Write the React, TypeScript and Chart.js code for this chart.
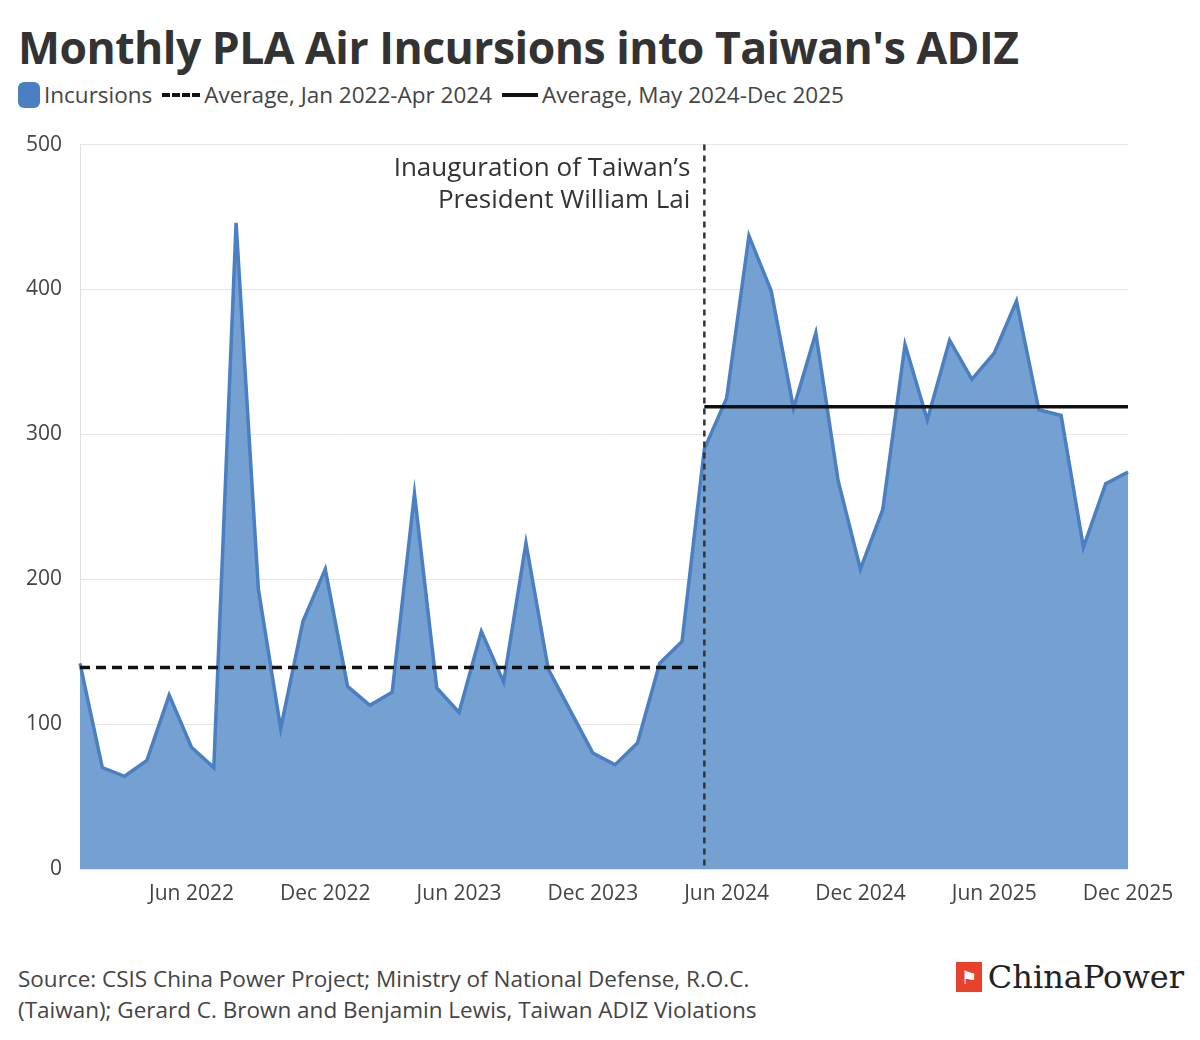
import React, { useRef, useEffect } from "react";
import { Chart, registerables } from "chart.js";

Chart.register(...registerables);

const months: string[] = [];
for (let y = 2022; y <= 2025; y++) {
  for (const m of ["Jan", "Feb", "Mar", "Apr", "May", "Jun", "Jul", "Aug", "Sep", "Oct", "Nov", "Dec"]) {
    months.push(`${m} ${y}`);
  }
}

const incursions = [
  142, 70, 64, 75, 120, 84, 70, 446, 193, 97, 171, 207,
  126, 113, 122, 259, 125, 108, 164, 129, 225, 138, 109, 80,
  72, 87, 142, 157, 290, 325, 437, 399, 318, 370, 268, 207,
  248, 362, 310, 365, 338, 356, 392, 317, 313, 222, 266, 274,
];

const tickLabels = ["Jun 2022", "Dec 2022", "Jun 2023", "Dec 2023", "Jun 2024", "Dec 2024", "Jun 2025", "Dec 2025"];
const avgBefore = 139;
const avgAfter = 319;
const splitMonth = "May 2024";
const annotation = ["Inauguration of Taiwan\u2019s", "President William Lai"];

const FONT = "'Open Sans', 'Noto Sans', sans-serif";

const App: React.FC = () => {
  const ref = useRef<HTMLCanvasElement>(null);

  useEffect(() => {
    if (!ref.current) return;
    const split = months.indexOf(splitMonth);
    const before = months.map((_, i) => (i <= split ? avgBefore : null));
    const after = months.map((_, i) => (i >= split ? avgAfter : null));

    const marker = {
      id: "marker",
      afterDatasetsDraw(chart: Chart) {
        const { ctx, chartArea, scales } = chart;
        const x = scales.x.getPixelForValue(split);
        ctx.save();
        ctx.strokeStyle = "#333";
        ctx.lineWidth = 2.5;
        ctx.setLineDash([6, 5]);
        ctx.beginPath();
        ctx.moveTo(x, chartArea.top);
        ctx.lineTo(x, chartArea.bottom);
        ctx.stroke();
        ctx.setLineDash([]);
        ctx.fillStyle = "#333";
        ctx.font = `26px ${FONT}`;
        ctx.textAlign = "right";
        ctx.textBaseline = "middle";
        ctx.fillText(annotation[0], x - 14, chartArea.top + 24);
        ctx.fillText(annotation[1], x - 14, chartArea.top + 56);
        ctx.restore();
      },
    };

    const chart = new Chart(ref.current, {
      type: "line",
      data: {
        labels: months,
        datasets: [
          {
            label: "Incursions",
            data: incursions,
            borderColor: "#4a7fc2",
            backgroundColor: "rgba(110,155,208,0.95)",
            borderWidth: 3.5,
            fill: "origin",
            pointRadius: 0,
            tension: 0,
            order: 3,
          },
          {
            label: "before",
            data: before,
            borderColor: "#111",
            borderWidth: 3.5,
            borderDash: [10, 6],
            pointRadius: 0,
            fill: false,
            order: 1,
          },
          {
            label: "after",
            data: after,
            borderColor: "#111",
            borderWidth: 3.5,
            pointRadius: 0,
            fill: false,
            order: 1,
          },
        ],
      },
      plugins: [marker],
      options: {
        animation: false,
        responsive: false,
        layout: { padding: { top: 19, right: 72, left: 0, bottom: 0 } },
        plugins: { legend: { display: false }, tooltip: { enabled: false } },
        scales: {
          x: {
            offset: false,
            grid: { display: false },
            border: { display: false },
            afterFit: (s: any) => { s.height = 56; },
            ticks: {
              autoSkip: false,
              maxRotation: 0,
              color: "#444",
              font: { family: FONT, size: 21 },
              padding: 4,
              callback: (_v: any, i: number) => (tickLabels.includes(months[i]) ? months[i] : ""),
            },
          },
          y: {
            min: 0,
            max: 500,
            grid: { color: "#e6e6e6", drawTicks: false },
            border: { display: true, color: "#e0e0e0" },
            afterFit: (s: any) => { s.width = 80; },
            ticks: {
              stepSize: 100,
              color: "#444",
              padding: 18,
              font: { family: FONT, size: 21 },
            },
          },
        },
      },
    });
    return () => chart.destroy();
  }, []);

  const legendItem = { display: "inline-flex", alignItems: "center", marginRight: 10 } as const;

  return (
    <div style={{ position: "absolute", left: 0, top: 0, width: 1200, height: 1040, background: "#fff", fontFamily: FONT, color: "#333" }}>
      <div style={{ position: "absolute", left: 18, top: 16, fontSize: 44.5, fontWeight: 700, color: "#333", letterSpacing: -0.5 }}>
        Monthly PLA Air Incursions into Taiwan's ADIZ
      </div>
      <div style={{ position: "absolute", left: 18, top: 79, fontSize: 22.5, display: "flex", color: "#444" }}>
        <span style={legendItem}>
          <span style={{ width: 22, height: 26, background: "#4a7fc2", borderRadius: 6, marginRight: 4, display: "inline-block" }} />
          Incursions
        </span>
        <span style={legendItem}>
          <span style={{ width: 38, borderTop: "4px dashed #111", marginRight: 4, display: "inline-block" }} />
          Average, Jan 2022-Apr 2024
        </span>
        <span style={legendItem}>
          <span style={{ width: 36, borderTop: "4px solid #111", marginRight: 4, display: "inline-block" }} />
          Average, May 2024-Dec 2025
        </span>
      </div>
      <canvas ref={ref} width={1200} height={811} style={{ position: "absolute", left: 0, top: 114, width: 1200, height: 811 }} />
      <div style={{ position: "absolute", left: 18, top: 963, fontSize: 22.5, lineHeight: "31px", color: "#444" }}>
        Source: CSIS China Power Project; Ministry of National Defense, R.O.C.
        <br />
        (Taiwan); Gerard C. Brown and Benjamin Lewis, Taiwan ADIZ Violations
      </div>
      <div style={{ position: "absolute", right: 16, top: 958, display: "flex", alignItems: "center" }}>
        <span style={{ width: 26, height: 30, background: "#e8412c", color: "#fff", fontSize: 18, display: "inline-flex", alignItems: "center", justifyContent: "center", marginRight: 6 }}>
          {"\u2691"}
        </span>
        <span style={{ fontFamily: "'DejaVu Serif', 'Liberation Serif', serif", fontSize: 32, color: "#222" }}>ChinaPower</span>
      </div>
    </div>
  );
};

export default App;
